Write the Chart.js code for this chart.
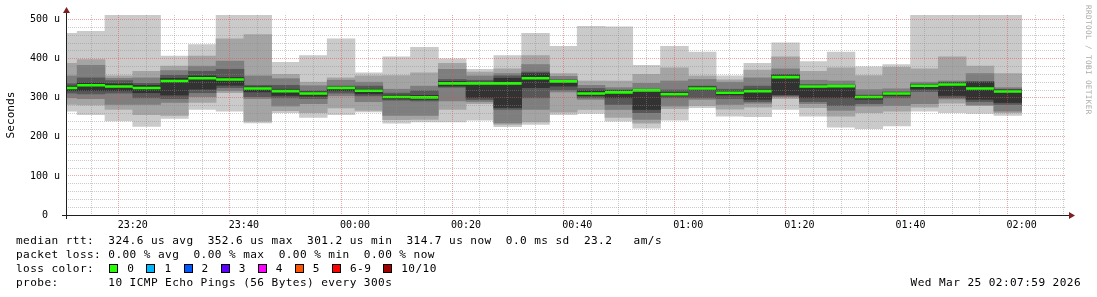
<!DOCTYPE html>
<html>
<head>
<meta charset="utf-8">
<script src="https://cdn.jsdelivr.net/npm/chart.js@4/dist/chart.umd.min.js"></script>
<style>
html,body{margin:0;padding:0;background:#fff;}
#wrap{position:relative;width:1097px;height:297px;overflow:hidden;font-family:"DejaVu Sans Mono",monospace;background:#fff;}
#c{position:absolute;left:0;top:0;}
.leg{position:absolute;left:16px;font-size:11.1px;letter-spacing:0.42px;line-height:14px;height:14px;white-space:pre;color:#000;}
.box{display:inline-block;width:7px;height:7px;border:1px solid #000;margin-left:1px;margin-right:9px;vertical-align:-1px;}
.lab{margin-right:11px;}
#stamp{position:absolute;right:16px;font-size:11.1px;letter-spacing:0.42px;line-height:14px;white-space:pre;color:#000;}
#wm{position:absolute;left:1083px;top:5px;writing-mode:vertical-rl;font-size:7.6px;letter-spacing:0.42px;line-height:10px;color:#aaaaaa;white-space:pre;}
</style>
</head>
<body>
<div id="wrap">
<canvas id="c" width="1097" height="297"></canvas>
<div id="wm"></div>
<div id="l1" class="leg" style="top:234px"></div>
<div id="l2" class="leg" style="top:248px"></div>
<div id="l3" class="leg" style="top:262px"></div>
<div id="l4" class="leg" style="top:276px"></div>
<div id="stamp" style="top:276px"></div>
</div>
<script>
// ---------------- data ----------------
const windowStart = '23:07:59';
const windowEnd = '02:07:59';
const stepMinutes = 5;
const intervalEnds = ['23:10','23:15','23:20','23:25','23:30','23:35','23:40','23:45','23:50','23:55',
  '00:00','00:05','00:10','00:15','00:20','00:25','00:30','00:35','00:40','00:45','00:50','00:55',
  '01:00','01:05','01:10','01:15','01:20','01:25','01:30','01:35','01:40','01:45','01:50','01:55','02:00'];

// sorted ping ranks (microseconds), ping1 = fastest ... ping10 = slowest
const ping1  = [266,257,241,227,247,270,266,236,262,250,257,264,235,238,238,243,226,232,257,260,240,222,243,275,253,252,270,253,225,221,228,266,262,260,255];
const ping2  = [283,282,270,257,255,288,313,240,267,262,274,268,244,245,270,285,232,238,263,270,250,235,272,280,271,276,298,275,253,262,266,276,286,280,262];
const ping3  = [300,298,283,283,288,303,318,298,279,285,305,290,255,255,292,290,236,270,315,296,270,245,279,296,283,286,303,285,268,279,280,285,297,282,266];
const ping4  = [312,310,312,300,298,313,326,303,300,298,312,305,294,292,327,295,270,300,320,300,283,262,300,300,298,290,305,290,280,285,300,316,300,290,283];
const ping5  = [318,318,318,313,307,322,332,315,306,304,318,310,297,296,330,300,275,326,330,305,300,270,305,320,307,296,308,300,300,296,306,322,306,296,288];
const median = [325,332,329,325,343,350,347,324,317,311,325,318,302,301,337,337,337,350,342,311,314,319,309,324,313,317,353,329,330,302,311,331,334,324,316];
const ping6  = [330,338,336,332,350,356,352,328,322,315,327,322,307,306,342,340,350,362,344,318,318,321,313,328,317,322,358,332,332,305,314,334,338,340,320];
const ping7  = [336,351,344,337,358,368,373,332,332,318,330,330,312,318,347,345,356,366,346,324,320,322,320,330,322,330,360,334,333,307,315,335,340,342,322];
const ping8  = [356,383,350,351,370,381,394,356,349,331,345,340,322,330,373,356,362,385,355,332,326,337,343,347,340,351,374,345,343,321,323,340,343,362,326];
const ping9  = [388,398,356,368,381,407,451,462,360,340,351,356,357,364,388,366,374,408,362,343,343,360,377,356,346,371,405,368,377,357,378,374,405,381,362];
const ping10 = [465,470,540,540,407,436,540,540,391,408,451,364,405,429,400,373,408,465,432,483,482,383,432,417,356,388,441,393,417,379,385,540,540,540,540];

const xTickLabels = ['23:20','23:40','00:00','00:20','00:40','01:00','01:20','01:40','02:00'];
const yTickValues = [0,100,200,300,400,500];
const yTickLabels = ['0','100 u','200 u','300 u','400 u','500 u'];
const yMax = 512;

const statsLine = 'median rtt:  324.6 us avg  352.6 us max  301.2 us min  314.7 us now  0.0 ms sd  23.2   am/s';
const lossLine = 'packet loss: 0.00 % avg  0.00 % max  0.00 % min  0.00 % now';
const lossLabels = ['0','1','2','3','4','5','6-9','10/10'];
const lossColors = ['#26ff00','#00b8ff','#0059ff','#5e00ff','#ff00ff','#ff5500','#ff0000','#a10000'];
const probeLine = 'probe:       10 ICMP Echo Pings (56 Bytes) every 300s';
const stampText = 'Wed Mar 25 02:07:59 2026';
const watermark = 'RRDTOOL / TOBI OETIKER';

// ---------------- helpers ----------------
function tmin(s){
  const p = s.split(':').map(Number);
  return ((p[0] - 23 + 24) % 24) * 60 + p[1] + (p[2] || 0) / 60;
}
const xMin = tmin(windowStart), xMax = tmin(windowEnd);
const centers = intervalEnds.map(e => tmin(e) - stepMinutes / 2);
const ranks = [ping1,ping2,ping3,ping4,ping5,ping6,ping7,ping8,ping9,ping10];
const smokeColors = ['#cacaca','#a4a4a4','#7e7e7e','#585858','#323232'];

const datasets = [];
const medPts = [];
centers.forEach((c,i) => {
  medPts.push({x: c - stepMinutes/2, y: median[i]}, {x: c + stepMinutes/2, y: median[i]}, {x: c + stepMinutes/2, y: null});
});
datasets.push({
  type: 'line', data: medPts, borderColor: '#20ff00', borderWidth: 2.6, pointRadius: 0,
  spanGaps: false, borderCapStyle: 'butt', tension: 0, order: 0
});
for (let b = 0; b < 5; b++) {
  const lo = ranks[b], hi = ranks[9 - b];
  datasets.push({
    type: 'bar',
    data: centers.map((c,i) => ({x: c, y: [lo[i], hi[i]]})),
    backgroundColor: smokeColors[b], borderWidth: 0, grouped: false,
    barPercentage: 1, categoryPercentage: 1, order: 5 - b
  });
}

const MINOR = 'rgba(140,140,140,0.45)';
const MAJOR = 'rgba(222,79,79,0.5)';

const axisArrows = {
  id: 'axisArrows',
  afterDraw(chart){
    const {ctx, chartArea: a} = chart;
    const y0 = Math.round(a.bottom) + 0.5;
    const x0 = Math.round(a.left) + 0.5;
    ctx.save();
    ctx.strokeStyle = 'rgb(31,31,31)';
    ctx.lineWidth = 1;
    ctx.beginPath();
    ctx.moveTo(a.left - 4, y0); ctx.lineTo(a.right + 4, y0);
    ctx.moveTo(x0, a.bottom + 4); ctx.lineTo(x0, a.top - 2);
    ctx.stroke();
    ctx.fillStyle = 'rgb(128,31,31)';
    ctx.beginPath();
    ctx.moveTo(x0 - 3.5, a.top - 2); ctx.lineTo(x0 + 3.5, a.top - 2); ctx.lineTo(x0, a.top - 8); ctx.closePath(); ctx.fill();
    ctx.beginPath();
    ctx.moveTo(a.right + 3, y0 - 3.5); ctx.lineTo(a.right + 3, y0 + 3.5); ctx.lineTo(a.right + 9, y0); ctx.closePath(); ctx.fill();
    ctx.restore();
  }
};

Chart.defaults.font.family = '"DejaVu Sans Mono", monospace';
Chart.defaults.color = '#000';

new Chart(document.getElementById('c'), {
  type: 'bar',
  data: { datasets },
  options: {
    responsive: false, animation: false, devicePixelRatio: 1,
    layout: { padding: { top: 15, right: 31, left: 0, bottom: 0 } },
    plugins: { legend: { display: false }, tooltip: { enabled: false } },
    scales: {
      x: {
        type: 'linear', min: xMin, max: xMax, offset: false,
        afterBuildTicks(scale){
          const t = [];
          for (let v = Math.ceil(xMin / stepMinutes) * stepMinutes; v <= xMax; v += stepMinutes) t.push({value: v});
          scale.ticks = t;
        },
        afterFit(scale){ scale.height = 82; },
        ticks: {
          autoSkip: false, maxRotation: 0, padding: 4, font: { size: 10 },
          callback(v){
            const i = xTickLabels.findIndex(l => tmin(l) === v);
            return i >= 0 ? xTickLabels[i] : '';
          }
        },
        grid: {
          z: 1, drawTicks: false, lineWidth: 1,
          color: ctx => (ctx.tick && xTickLabels.some(l => tmin(l) === ctx.tick.value)) ? MAJOR : MINOR
        },
        border: { display: false, dash: [1,1] }
      },
      y: {
        type: 'linear', min: 0, max: yMax,
        afterBuildTicks(scale){
          const t = [];
          for (let v = 0; v <= yMax; v += 20) t.push({value: v});
          scale.ticks = t;
        },
        afterFit(scale){ scale.width = 66; },
        ticks: {
          autoSkip: false, padding: 6, font: { size: 10 },
          callback(v){
            const i = yTickValues.indexOf(v);
            if (i < 0) return '';
            const l = yTickLabels[i];
            return l.indexOf(' ') < 0 ? l + '  ' : l;
          }
        },
        grid: {
          z: 1, drawTicks: false, lineWidth: 1,
          color: ctx => (ctx.tick && yTickValues.indexOf(ctx.tick.value) >= 0) ? MAJOR : MINOR
        },
        border: { display: false, dash: [1,1] },
        title: { display: true, text: 'Seconds', font: { size: 11.1 }, padding: { top: 4, bottom: 0 } }
      }
    }
  },
  plugins: [axisArrows]
});

// ---------------- text block ----------------
document.getElementById('wm').textContent = watermark;
document.getElementById('l1').textContent = statsLine;
document.getElementById('l2').textContent = lossLine;
const l3 = document.getElementById('l3');
l3.appendChild(document.createTextNode('loss color:  '));
lossLabels.forEach((lab, i) => {
  const b = document.createElement('span'); b.className = 'box'; b.style.background = lossColors[i];
  const t = document.createElement('span'); t.className = 'lab'; t.textContent = lab;
  l3.appendChild(b); l3.appendChild(t);
});
document.getElementById('l4').textContent = probeLine;
document.getElementById('stamp').textContent = stampText;
</script>
</body>
</html>
